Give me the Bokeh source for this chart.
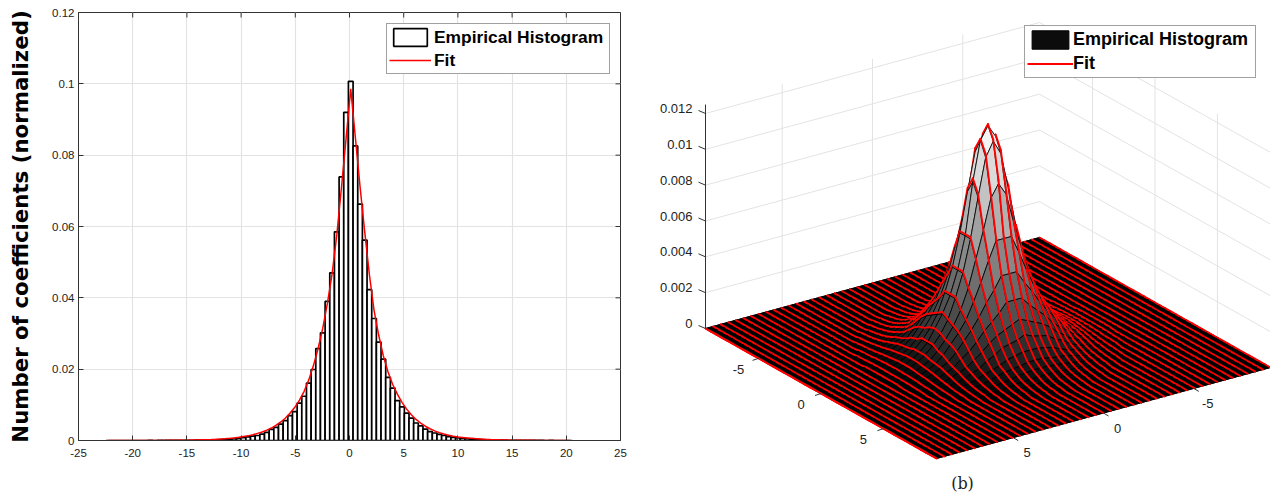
import numpy as np
from bokeh.embed import file_html
from bokeh.resources import INLINE
from bokeh.plotting import figure
from bokeh.layouts import row
from bokeh.models import (ColumnDataSource, FixedTicker, Label, Legend, LegendItem, Range1d)
from bokeh.core.properties import value

# ------------------------------------------------------------------ data
x_ticks = [-25, -20, -15, -10, -5, 0, 5, 10, 15, 20, 25]
y_ticks = [0, 0.02, 0.04, 0.06, 0.08, 0.1, 0.12]
y_tick_labels = ["0", "0.02", "0.04", "0.06", "0.08", "0.1", "0.12"]
y_label = "Number of coefficients (normalized)"
legend_labels = ["Empirical Histogram", "Fit"]

bin_first_center = -22.245
bin_width = 0.43
hist_values = [
    0, 0, 0, 0, 0, 0, 0, 0, 0, 0.00001, 0, 0.00001, 0.00001, 0.00002, 0.00002,
    0.00003, 0.00004, 0.00005, 0.00006, 0.00008,
    .0001, .00012, .00016, .0002, .00025, .0003, .0004, .0005, .0006, .0008,
    .0010, .0012, .0014, .0018, .0023, .0031, .0037, .0046, .0056, .007, .0081,
    .0105, .0124, .0161, .0199, .0258, .0302, .039, .047, .0585, .0739, .092,
    .1007,
    .0826, .0663, .0562, .0423, .0342, .0276, .0228, .0177, .0147, .0112, .0094,
    .0077, .0063, .0049, .0041, .0032, .0025, .0021, .0017, .0014, .0011, .0009,
    .0007, .0006, .0005, .0004, .0003, .00025, .0002, .00016, .00012, .0001,
    .00008, .00006, .00005, .00004, .00003, .00002, .00002, .00001, .00001, 0,
    .00001, 0, 0, 0, 0,
]
fit_values = [
    0, 0, 0, 0, 0, 0.00001, 0.00001, 0.00001, 0.00001, 0.00002, 0.00002, 0.00003,
    0.00003, 0.00004, 0.00005, 0.00006, 0.00007, 0.00009, 0.00011, 0.00013,
    .00019, .00023, .00028, .00034, .00041, .0005, .0006, .00073, .00089, .0011,
    .0013, .0016, .002, .0024, .0029, .0035, .0043, .0052, .0063, .0077, .0093,
    .0113, .0138, .017, .021, .0258, .0315, .0385, .0467, .0575, .0708, .0847,
    .0986,
    .0848, .0711, .0585, .0465, .0365, .0295, .0237, .0192, .0157, .013, .0107,
    .0088, .0072, .0059, .0049, .004, .0033, .0027, .0022, .0018, .0015, .0012,
    .001, .00085, .0007, .0006, .0005, .0004, .00033, .00027, .00022, .00018,
    .00015, .00012, .0001, .00008, .00006, .00005, .00004, .00003, .00002,
    .00002, .00001, .00001, .00001, 0, 0,
]

radial_step = 0.1
hist_radial = [
    .0124, .0123, .0122, .0120, .0117, .0113, .0109, .0102, .0095, .0088,
    .0082, .0076, .0071, .0066, .0061, .0056, .0052, .0048, .0045, .0041,
    .0038, .0035, .0033, .0030, .0028, .0026, .0024, .0022, .0020, .0019,
    .0017, .0016, .0015, .0013, .0012, .0011, .0010, .0009, .0008, .0007,
    .00065, .0006, .00053, .00047, .00042, .00037, .00033, .00029, .00026, .00023,
    .0002, .00018, .00016, .00014, .00012, .0001, .00009, .00008, .00007, .00006,
    .00005, 0,
]
fit_radial = [
    .0125, .0124, .0123, .0121, .0118, .0115, .0111, .0104, .0097, .0090,
    .0083, .0077, .0072, .0067, .0062, .0057, .0053, .0049, .0045, .0042,
    .0039, .0036, .0033, .0031, .0029, .0027, .0025, .0023, .0021, .0019,
    .0018, .0016, .0015, .0014, .0013, .0011, .0010, .0009, .0008, .0007,
    .00065, .0006, .00054, .00048, .00043, .00038, .00034, .0003, .00026, .00023,
    .0002, .00018, .00016, .00014, .00012, .0001, .00009, .00008, .00007, .00006,
    .00005, 0,
]
axis_half_range = 9.25
grid_nodes = 45
base_ticks = [-5, 0, 5]
base_tick_labels = ["-5", "0", "5"]
z_ticks = [0, 0.002, 0.004, 0.006, 0.008, 0.01, 0.012]
z_tick_labels = ["0", "0.002", "0.004", "0.006", "0.008", "0.01", "0.012"]
z_top = 0.0125

TICK_FONT = "Liberation Sans"
TICK_SIZE = "11.5px"
TICK_SIZE_B = "13px"
GRID = "#e3e3e3"
AXIS = "#333333"

# ------------------------------------------------------------------ panel (a)
centers = bin_first_center + bin_width * np.arange(len(hist_values))
hist_src = ColumnDataSource(dict(left=centers - bin_width / 2, right=centers + bin_width / 2,
                                 top=hist_values, bottom=[0] * len(hist_values)))
fit_src = ColumnDataSource(dict(x=centers, y=fit_values))

a = figure(width=630, height=494, output_backend="svg", toolbar_location=None,
           x_range=Range1d(-25, 25), y_range=Range1d(0, 0.12), frame_align=False,
           min_border_left=78, min_border_right=10, min_border_top=12, min_border_bottom=54)
a.outline_line_color = AXIS
a.outline_line_width = 1
a.xgrid.grid_line_color = GRID
a.ygrid.grid_line_color = GRID
a.xgrid.grid_line_width = 1.2
a.ygrid.grid_line_width = 1.2
a.xgrid.ticker = FixedTicker(ticks=x_ticks)
a.ygrid.ticker = FixedTicker(ticks=y_ticks)

for ax, ticks in ((a.xaxis[0], x_ticks), (a.yaxis[0], y_ticks)):
    ax.ticker = FixedTicker(ticks=ticks)
    ax.major_tick_in = 5
    ax.major_tick_out = 0
    ax.minor_tick_line_color = None
    ax.axis_line_color = AXIS
    ax.major_tick_line_color = AXIS
    ax.major_label_text_font = TICK_FONT
    ax.major_label_text_font_size = TICK_SIZE
    ax.major_label_text_color = "#222222"
a.xaxis[0].major_label_overrides = {t: str(t) for t in x_ticks}
a.yaxis[0].major_label_overrides = dict(zip(y_ticks, y_tick_labels))
a.xaxis[0].major_label_standoff = 8
a.yaxis[0].major_label_standoff = 4
a.yaxis[0].axis_label = y_label
a.yaxis[0].axis_label_text_font = "DejaVu Sans"
a.yaxis[0].axis_label_text_font_style = "bold"
a.yaxis[0].axis_label_text_font_size = "21.3px"
a.yaxis[0].axis_label_text_color = "#000000"
a.yaxis[0].axis_label_standoff = 16

bars = a.quad(left="left", right="right", top="top", bottom="bottom", source=hist_src,
              fill_color="white", line_color="black", line_width=1.7)
fit_line = a.line("x", "y", source=fit_src, line_color="#ff0000", line_width=1.5)

# inner tick marks on the top and right sides of the box
tick_dx = 5 * 50 / 542
tick_dy = 5 * 0.12 / 428
a.segment(x0=x_ticks, y0=[0.12] * len(x_ticks), x1=x_ticks, y1=[0.12 - tick_dy] * len(x_ticks),
          line_color=AXIS, line_width=1)
a.segment(x0=[25] * len(y_ticks), y0=y_ticks, x1=[25 - tick_dx] * len(y_ticks), y1=y_ticks,
          line_color=AXIS, line_width=1)

a_legend = Legend(items=[LegendItem(label=value(legend_labels[0]), renderers=[bars]),
                         LegendItem(label=value(legend_labels[1]), renderers=[fit_line])],
                  location=(308, 366), orientation="vertical", margin=0, padding=2, spacing=1,
                  glyph_width=42, glyph_height=22, label_height=22, label_width=173,
                  label_standoff=3,
                  label_text_font=TICK_FONT, label_text_font_style="bold",
                  label_text_font_size="17.4px", label_text_color="black",
                  border_line_color="#444444", border_line_width=1.5,
                  background_fill_color="white", background_fill_alpha=1)
a.add_layout(a_legend)
a.add_layout(Label(x=244, y=-44, x_units="screen", y_units="screen", text="(a)",
                   text_font="DejaVu Serif", text_font_size="16px", text_color="#222222",
                   text_align="center", text_baseline="middle"))

# ------------------------------------------------------------------ panel (b)
b = figure(width=640, height=494, output_backend="svg", toolbar_location=None,
           x_range=Range1d(630, 1270), y_range=Range1d(494, 0), frame_align=False,
           x_axis_location=None, y_axis_location=None, min_border=0)
b.outline_line_color = None
b.grid.visible = False
b.background_fill_color = "white"

# orthographic projection of (u, v, z) to page pixels
CX, CY = 987.5, 347.5
EU = (231 / 18.5, 130 / 18.5)
EV = (-334 / 18.5, 91 / 18.5)
KZ = 215 / 0.012


def proj(u, v, z=0.0):
    return CX + u * EU[0] + v * EV[0], CY + u * EU[1] + v * EV[1] - z * KZ


A = axis_half_range
nodes = np.linspace(-A, A, grid_nodes)
step = nodes[1] - nodes[0]


def surface(radial):
    out = np.zeros((grid_nodes, grid_nodes))
    for i, u in enumerate(nodes):
        for j, v in enumerate(nodes):
            k = int(round(np.hypot(u, v) / radial_step))
            out[i, j] = radial[min(k, len(radial) - 1)]
    return out


Zh = surface(hist_radial)
Zf = surface(fit_radial)

# walls: z grid lines and vertical grid lines
wx, wy = [], []
for z in z_ticks[1:]:
    pts = [proj(-A, A, z), proj(-A, -A, z), proj(A, -A, z)]
    wx.append([p[0] for p in pts])
    wy.append([p[1] for p in pts])
for t in base_ticks:
    for (p0, p1) in ((proj(-A, t, 0), proj(-A, t, z_top)), (proj(t, -A, 0), proj(t, -A, z_top))):
        wx.append([p0[0], p1[0]])
        wy.append([p0[1], p1[1]])
b.multi_line(wx, wy, line_color=GRID, line_width=1)

# plate
plate = [proj(-A, A), proj(A, A), proj(A, -A), proj(-A, -A)]
plate_r = b.patch([p[0] for p in plate], [p[1] for p in plate], fill_color="#0c0c0c",
                  line_color="black", line_width=1)

# surface cells and fit segments, back to front
items = []
zmax = max(hist_radial)
for i in range(grid_nodes - 1):
    for j in range(grid_nodes - 1):
        corners = [(i, j), (i + 1, j), (i + 1, j + 1), (i, j + 1)]
        pts = [proj(nodes[p], nodes[q], Zh[p, q]) for p, q in corners]
        zc = np.mean([Zh[p, q] for p, q in corners])
        g = int(min(255, 255 * (zc / zmax) ** 0.8))
        key = proj(nodes[i] + step / 2, nodes[j] + step / 2)[1]
        items.append((key, 0, [p[0] for p in pts], [p[1] for p in pts],
                      "#%02x%02x%02x" % (g, g, g), "black", 0.8))
bias = EV[1] * step / 2 + 0.01
for j in range(grid_nodes):
    for i in range(grid_nodes - 1):
        p0 = proj(nodes[i], nodes[j], Zf[i, j])
        p1 = proj(nodes[i + 1], nodes[j], Zf[i + 1, j])
        key = proj(nodes[i] + step / 2, nodes[j])[1] + bias
        items.append((key, 1, [p0[0], p1[0]], [p0[1], p1[1]], "#ff0000", "#ff0000", 1.9))
items.sort(key=lambda t: (t[0], t[1]))
b.patches([t[2] for t in items], [t[3] for t in items],
          fill_color=[t[4] for t in items], line_color=[t[5] for t in items],
          line_width=[t[6] for t in items], line_join="round")

# front fit edge
edge = [proj(n, A, 0) for n in nodes]
fit_edge = b.line([p[0] for p in edge], [p[1] for p in edge], line_color="#ff0000", line_width=1.8)

# axes and ticks
tx, ty = [], []
p0, p1 = proj(-A, A, 0), proj(-A, A, z_top)
tx.append([p0[0], p1[0]])
ty.append([p0[1], p1[1]])
for z in z_ticks:
    p = proj(-A, A, z)
    tx.append([p[0], p[0] - 7])
    ty.append([p[1], p[1] - 3])
for t in base_ticks:
    p = proj(t, A)
    tx.append([p[0], p[0] - 6])
    ty.append([p[1], p[1] + 2])
    p = proj(A, t)
    tx.append([p[0], p[0] + 5])
    ty.append([p[1], p[1] + 3])
b.multi_line(tx, ty, line_color=AXIS, line_width=1)

font = value(TICK_FONT)
z_pos = [proj(-A, A, z) for z in z_ticks]
b.text([p[0] - 13 for p in z_pos], [p[1] - 5 for p in z_pos], text=z_tick_labels,
       text_font=font, text_font_size=TICK_SIZE_B, text_color="#222222",
       text_align="right", text_baseline="middle")
u_pos = [proj(t, A) for t in base_ticks]
b.text([p[0] - 20 for p in u_pos], [p[1] + 11 for p in u_pos], text=base_tick_labels,
       text_font=font, text_font_size=TICK_SIZE_B, text_color="#222222",
       text_align="center", text_baseline="middle")
v_pos = [proj(A, t) for t in base_ticks]
b.text([p[0] + 14 for p in v_pos], [p[1] + 15 for p in v_pos], text=base_tick_labels,
       text_font=font, text_font_size=TICK_SIZE_B, text_color="#222222",
       text_align="center", text_baseline="middle")
b.text([962], [483], text=["(b)"], text_font=value("DejaVu Serif"), text_font_size="16px",
       text_color="#222222", text_align="center", text_baseline="middle")

b_legend = Legend(items=[LegendItem(label=value(legend_labels[0]), renderers=[plate_r]),
                         LegendItem(label=value(legend_labels[1]), renderers=[fit_edge])],
                  location=(394, 416), orientation="vertical", margin=0, padding=2, spacing=1,
                  glyph_width=46, glyph_height=23, label_height=23, label_width=180,
                  label_standoff=0,
                  label_text_font=TICK_FONT, label_text_font_style="bold",
                  label_text_font_size="18px", label_text_color="black",
                  border_line_color="#444444", border_line_width=1.5,
                  background_fill_color="white", background_fill_alpha=1)
b.add_layout(b_legend)

page = row(a, b, spacing=0)
open("out.html", "w").write(file_html(page, INLINE))
